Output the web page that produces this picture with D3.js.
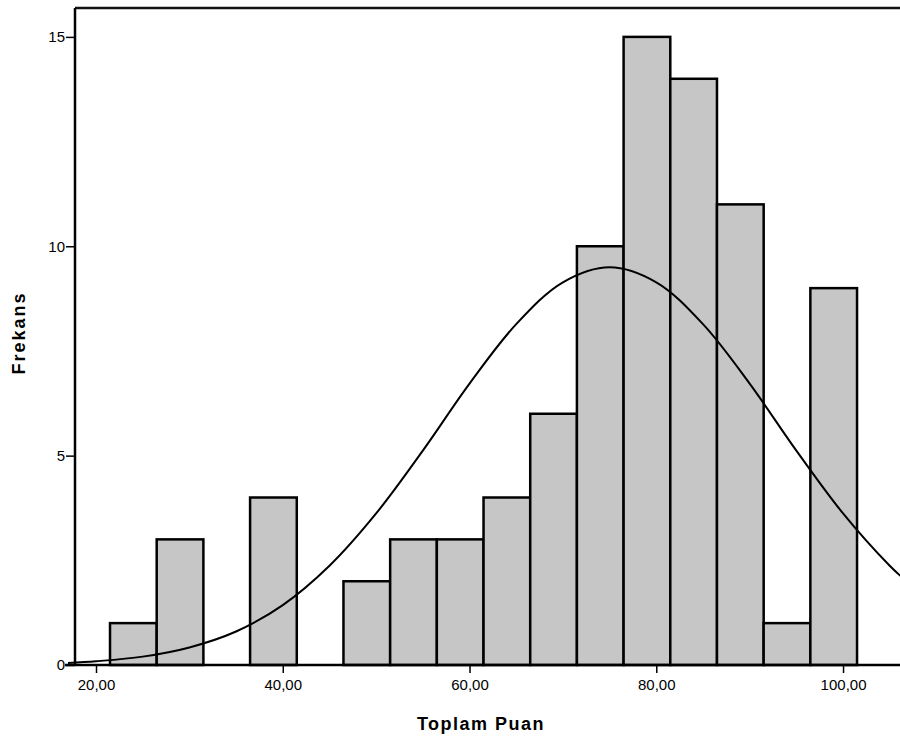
<!DOCTYPE html>
<html>
<head>
<meta charset="utf-8">
<script src="https://cdn.jsdelivr.net/npm/d3@7"></script>
<style>
  body { margin: 0; background: #fff; }
  svg { display: block; }
  text { font-family: "Liberation Sans", Arial, sans-serif; fill: #000; }
</style>
</head>
<body>
<svg id="chart" width="900" height="744"></svg>
<script>
// Histogram bins (lower edge) and counts.
const binStart = [21.5, 26.5, 31.5, 36.5, 41.5, 46.5, 51.5, 56.5, 61.5, 66.5, 71.5, 76.5, 81.5, 86.5, 91.5, 96.5];
const binWidth = 5;
const counts   = [1, 3, 0, 4, 0, 2, 3, 3, 4, 6, 10, 15, 14, 11, 1, 9];

// Normal curve.
const curveX = [17, 20, 25, 30, 35, 40, 45, 50, 55, 60, 65, 70, 75, 80, 85, 90, 95, 100, 105, 106.5];
const curveY = [0.05, 0.09, 0.2, 0.42, 0.8, 1.43, 2.37, 3.62, 5.12, 6.72, 8.14, 9.14, 9.5, 9.14, 8.14, 6.72, 5.12, 3.62, 2.37, 2.06];

const xTicks = [20, 40, 60, 80, 100];
const xTickLabels = ['20,00', '40,00', '60,00', '80,00', '100,00'];
const yTicks = [0, 5, 10, 15];

const svg = d3.select('#chart');

const plotLeft = 75, plotRight = 900, plotTop = 8, plotBottom = 665;

var x = d3.scaleLinear().domain([17.75, 106.1]).range([plotLeft, plotRight]);
var y = d3.scaleLinear().domain([0, 15.69]).range([plotBottom, plotTop]);

// Bars.
svg.append('g')
  .selectAll('rect')
  .data(counts.map(function(c, i) { return {x0: binStart[i], n: c}; }).filter(d => d.n > 0))
  .join('rect')
    .attr('x', d => x(d.x0))
    .attr('y', d => y(d.n))
    .attr('width', d => x(d.x0 + binWidth) - x(d.x0))
    .attr('height', d => y(0) - y(d.n))
    .attr('fill', '#c6c6c6')
    .attr('stroke', '#000')
    .attr('stroke-width', 2.5);

// Normal curve.
var line = d3.line()
  .x(function(d, i) { return x(curveX[i]); })
  .y(function(d) { return y(d); })
  .curve(d3.curveCatmullRom);

svg.append('path')
  .attr('d', line(curveY))
  .attr('fill', 'none')
  .attr('stroke', '#000')
  .attr('stroke-width', 2);

// Frame: top border.
svg.append('line')
  .attr('x1', plotLeft).attr('x2', plotRight)
  .attr('y1', plotTop).attr('y2', plotTop)
  .attr('stroke', '#111').attr('stroke-width', 2.5);

// X axis.
var xAxis = d3.axisBottom(x)
  .tickValues(xTicks)
  .tickFormat(function(d, i) { return xTickLabels[i]; })
  .tickSize(8)
  .tickSizeOuter(0);

var gx = svg.append('g')
  .attr('transform', 'translate(0,' + plotBottom + ')')
  .call(xAxis);
gx.select('.domain').attr('stroke', '#000').attr('stroke-width', 2.5)
  .attr('d', 'M' + (plotLeft - 10) + ',0H' + plotRight);
gx.selectAll('.tick line').attr('stroke', '#000').attr('stroke-width', 1.5);
gx.selectAll('.tick text')
  .attr('y', 14)
  .style('font-size', '15px')
  .style('font-family', '"Liberation Sans", Arial, sans-serif');

// Y axis.
var yAxis = d3.axisLeft(y)
  .tickValues(yTicks)
  .tickSize(9)
  .tickSizeOuter(0);

var gy = svg.append('g')
  .attr('transform', 'translate(' + plotLeft + ',0)')
  .call(yAxis);
gy.select('.domain').attr('stroke', '#000').attr('stroke-width', 2.5)
  .attr('d', 'M0,' + plotTop + 'V' + plotBottom);
gy.selectAll('.tick line').attr('stroke', '#000').attr('stroke-width', 1.5);
gy.selectAll('.tick text')
  .attr('x', -10)
  .style('font-size', '15px')
  .style('font-family', '"Liberation Sans", Arial, sans-serif');

// Axis titles.
svg.append('text')
  .attr('x', 481)
  .attr('y', 730)
  .attr('text-anchor', 'middle')
  .style('font-size', '18px')
  .style('font-weight', 'bold')
  .style('letter-spacing', '1.5px')
  .text('Toplam Puan');

svg.append('text')
  .attr('transform', 'translate(25,333) rotate(-90)')
  .attr('text-anchor', 'middle')
  .style('font-size', '18px')
  .style('font-weight', 'bold')
  .style('letter-spacing', '2px')
  .text('Frekans');
</script>
</body>
</html>
